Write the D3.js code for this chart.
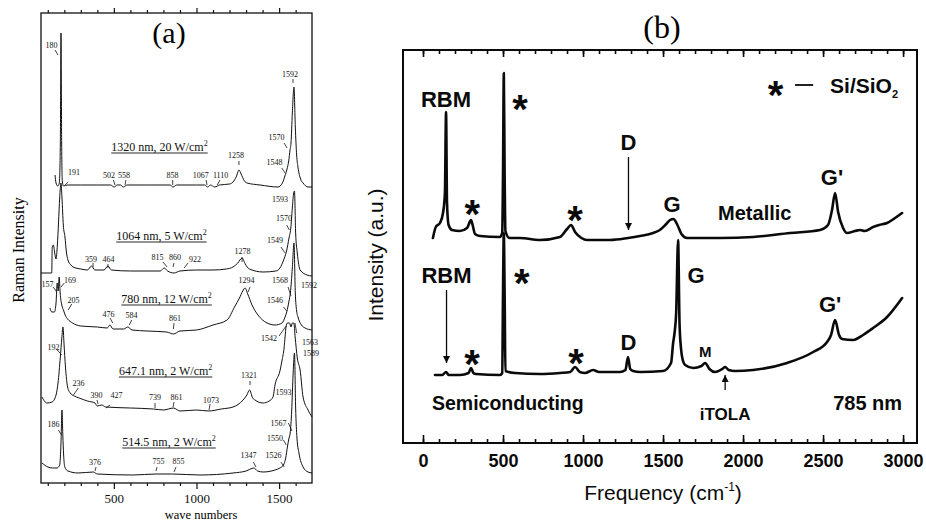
<!DOCTYPE html>
<html>
<head>
<meta charset="utf-8">
<script src="https://cdn.jsdelivr.net/npm/d3@7"></script>
<style>
  body { margin: 0; background: #fff; }
  svg { display: block; }
</style>
</head>
<body>
<svg id="svg" width="926" height="521"></svg>
<script>
/* Raman spectra of nanotubes: (a) five laser lines, (b) metallic vs semiconducting at 785 nm */

// ---------- panel (a) data: [wave number, intensity (a.u., stacked)] ----------
var spec1320 = [[144,308],[150,300],[160,297],[170,300],[176,340],[180,450],[184,340],[188,302],[195,297],[220,298],
  [300,298],[400,298],[480,298],[502,296],[520,298],[540,298],[558,296],[580,298],[700,298],[840,298],[858,296],
  [880,298],[1000,298],[1050,298],[1067,296],[1085,298],[1110,296],[1140,298],[1200,299],[1221,301],[1240,306],
  [1257,313],[1270,309],[1290,302],[1306,300],[1385,298],[1493,296],[1520,300],[1535,307],[1548,314],[1558,322],
  [1566,333],[1572,340],[1580,370],[1590,396],[1598,356],[1606,328],[1614,316],[1630,304],[1645,300],[1675,296],[1699,296]];

var spec1064 = [[59,210],[124,210],[127,236],[134,238],[142,230],[150,224],[158,238],[165,260],[172,285],[180,300],
  [186,285],[194,258],[204,246],[212,232],[222,223],[240,218],[253,216],[300,214],[340,213],[365,217],[385,213],
  [440,213],[464,217],[485,213],[600,212],[780,212],[805,215],[825,212],[864,210],[900,212],[1000,213],[1100,213],
  [1180,214],[1221,216],[1250,220],[1276,225],[1295,219],[1320,214],[1403,211],[1480,212],[1505,215],[1525,222],
  [1545,232],[1560,245],[1570,254],[1580,275],[1588,290],[1593,292],[1600,250],[1610,230],[1627,213],[1669,208],[1699,207]];

var spec780 = [[113,175],[125,171],[140,171],[150,180],[157,200],[163,192],[169,206],[175,190],[185,178],[197,172],
  [205,168],[220,164],[250,160],[300,157],[400,156],[460,155],[476,158],[495,154],[560,154],[584,156],[610,153],
  [700,152],[820,151],[861,149],[900,152],[1000,153],[1100,158],[1185,163],[1230,176],[1260,185],[1280,192],
  [1294,195],[1310,189],[1336,178],[1372,168],[1427,160],[1475,158],[1518,160],[1536,166],[1546,171],[1560,182],
  [1568,190],[1580,215],[1590,240],[1598,190],[1606,172],[1614,166],[1635,158],[1657,155],[1699,153]];

var spec647 = [[65,86],[95,80],[126,81],[150,88],[162,100],[176,126],[185,145],[192,156],[198,140],[207,116],
  [220,96],[236,90],[260,87],[290,85],[340,82],[386,80],[390,79],[400,77],[427,78],[450,76],[600,75],[739,74],
  [800,73],[861,75],[900,72],[1000,73],[1073,72],[1150,74],[1221,76],[1282,83],[1305,88],[1321,93],[1340,85],
  [1354,83],[1403,80],[1440,82],[1463,86],[1475,98],[1505,112],[1518,123],[1530,135],[1536,146],[1542,156],
  [1550,160],[1563,160],[1572,156],[1580,160],[1589,160],[1597,146],[1610,125],[1627,113],[1645,86],[1675,73],[1699,66]];

var spec514 = [[65,20],[101,16],[130,15],[156,15],[172,18],[180,40],[186,73],[191,48],[196,28],[203,16],[222,12],
  [283,10],[376,11],[400,9],[616,8],[755,9],[855,9],[1021,8],[1221,10],[1300,12],[1347,15],[1370,12],[1403,11],
  [1475,13],[1505,15],[1526,18],[1540,25],[1550,36],[1560,45],[1567,50],[1576,72],[1585,110],[1593,130],[1600,75],
  [1608,45],[1620,30],[1645,16],[1675,11],[1699,10]];

var aTickMinor = [100,200,300,400,600,700,800,900,1100,1200,1300,1400,1600];
var aTickMajor = [500,1000,1500];

// condition labels: text, wave number (centre), intensity (baseline)
var aConditions = [["1320 nm,  20 W/cm",776,332],["1064 nm,  5 W/cm",788,243],["780 nm,  12 W/cm",819,180],
  ["647.1 nm,  2 W/cm",813,108],["514.5 nm,  2 W/cm",834,37]];

// peak labels: text, wave number (centre), intensity (baseline)
var aPeakLabels = [["180",122,435],["191",259,308],["502",470,305],["558",562,305],["858",855,305],["1067",1026,305],
  ["1110",1146,305],["1258",1239,325],["1570",1484,343],["1548",1472,318],["1592",1566,406],
  ["1593",1506,281],["1570",1530,262],["1549",1475,240],["359",362,221],["464",467,221],["815",764,223],["860",870,223],
  ["922",991,221],["1278",1279,229],
  ["157",98,196],["169",234,200],["205",256,180],["476",467,166],["584",607,165],["861",870,162],["1294",1303,200],
  ["1568",1506,200],["1592",1681,195],["1546",1475,180],
  ["192",135,133],["236",286,97],["390",395,85],["427",516,85],["739",749,83],["861",879,83],["1073",1088,80],
  ["1321",1318,105],["1593",1527,88],["1542",1439,142],["1563",1687,138],["1589",1693,127],
  ["186",135,56],["376",386,18],["755",770,19],["855",891,19],["1347",1315,25],["1526",1466,25],["1550",1475,42],["1567",1496,57]];

// little pointer strokes from labels to peaks: w1, I1, w2, I2
var aPointers = [[144,433,162,428],[224,301,204,298],[497,303,507,298],[573,303,567,298],[856,303,856,298],
  [1058,303,1064,298],[1142,303,1126,298],[1257,322,1257,318],[1530,340,1548,335],[1516,315,1536,310],[1584,404,1584,400],
  [1546,258,1562,253],[1511,236,1536,230],[374,220,374,216],[464,219,464,215],[797,221,822,216],[864,220,858,216],
  [949,220,925,215],[1276,226,1276,221],
  [133,196,154,191],[200,200,180,196],[245,179,224,173],[477,165,493,160],[608,163,593,158],[864,160,860,154],
  [1324,196,1312,191],[1554,196,1572,187],[1526,176,1546,172],
  [158,133,184,128],[285,95,255,88],[398,83,404,79],[477,78,452,75],[749,80,749,75],[864,81,858,76],[1082,79,1076,73],
  [1324,102,1324,98],[1500,147,1542,157],[1606,150,1596,160],
  [164,53,184,48],[392,16,386,12],[761,16,755,12],[876,16,864,11],[1344,21,1360,16],[1511,21,1531,16],
  [1526,43,1543,38],[1556,60,1578,52]];

// ---------- panel (b) data ----------
var metallic = [[62,205],[80,216],[106,220],[125,230],[137,250],[144,331],[150,240],[160,218],[181,213],[231,212],
  [275,215],[292,221],[300,223],[310,218],[325,209],[356,207],[481,206],[495,210],[500,270],[505,370],[510,270],
  [515,212],[540,205],[606,205],[731,203],[856,206],[900,214],[925,218],[950,211],[990,205],[1025,203],[1169,203],
  [1281,205],[1356,207],[1438,210],[1480,213],[1520,219],[1544,223],[1565,224],[1590,218],[1615,209],[1650,205],[1856,205],
  [2063,206],[2294,210],[2481,213],[2531,218],[2556,233],[2575,250],[2594,231],[2625,215],[2650,210],[2700,212],
  [2731,213],[2760,212],[2813,216],[2850,218],[2900,220],[2950,225],[2994,230]];

var semiconducting = [[75,68],[120,68],[144,71],[160,68],[231,68],[285,70],[300,75],[315,70],[331,69],[481,68],
  [495,70],[500,150],[505,210],[510,150],[515,72],[575,70],[731,69],[856,70],[920,71],[950,76],[980,71],[1013,70],
  [1063,73],[1100,71],[1231,71],[1265,73],[1281,86],[1295,74],[1313,72],[1356,71],[1500,72],[1550,80],[1563,100],
  [1572,110],[1582,130],[1594,203],[1603,120],[1612,95],[1625,82],[1638,78],[1688,75],[1740,77],[1763,80],[1790,74],
  [1825,71],[1870,74],[1888,76],[1910,73],[1950,72],[2063,73],[2275,80],[2438,91],[2525,101],[2550,108],[2575,123],
  [2600,108],[2619,104],[2688,103],[2750,108],[2813,115],[2900,126],[2994,145]];

var bTickMinor = d3.range(0, 3001, 100);
var bTickMajor = [0,500,1000,1500,2000,2500,3000];

// peak labels: text, wave number, intensity (baseline), anchor
var bLabels = [["RBM",144,336,"middle"],["D",1284,293,"middle"],["G",1556,231,"middle"],["G'",2556,258,"middle"],
  ["RBM",147,160,"middle"],["D",1284,93,"middle"],["G",1706,160,"middle"],["G'",2544,131,"middle"]];
var bStars = [[606,320],[308,215],[950,209.5],[617,146.5],[306,65],[956,66.5],[2203,334.5]];
// arrows: w, I from, I to
var bArrows = [[1284,286,213],[147,153,80],[1888,53,68]];

// ---------- scales ----------
var svg = d3.select("#svg");
var xa = d3.scaleLinear().domain([59, 1699]).range([41, 312]);
var ya = d3.scaleLinear().domain([0, 470]).range([483, 13]);
var xb = d3.scaleLinear().domain([-125, 3087]).range([403, 917]);
var yb = d3.scaleLinear().domain([0, 393]).range([443, 50]);

var serif = "'Liberation Serif','Times New Roman',serif";
var sans = "'Liberation Sans',Arial,Helvetica,sans-serif";

// ================= panel (a) =================
var gA = svg.append("g");
var lineA = d3.line().x(d => xa(d[0])).y(d => ya(d[1])).curve(d3.curveMonotoneX);

[spec1320, spec1064, spec780, spec647, spec514].forEach(function(s) {
  gA.append("path").attr("d", lineA(s))
    .attr("fill", "none").attr("stroke", "#111").attr("stroke-width", 1);
});

gA.append("rect")
  .attr("x", xa.range()[0]).attr("y", ya.range()[1])
  .attr("width", xa.range()[1] - xa.range()[0]).attr("height", ya.range()[0] - ya.range()[1])
  .attr("fill", "none").attr("stroke", "#111").attr("stroke-width", 1.3);

function axisA(gen, y) {
  var g = gA.append("g").attr("transform", "translate(0," + y + ")").call(gen);
  g.select(".domain").remove();
  g.selectAll("line").attr("stroke", "#111").attr("stroke-width", 1.2);
  g.selectAll("text").attr("font-family", serif).attr("font-size", 13).attr("fill", "#111");
  return g;
}
axisA(d3.axisBottom(xa).tickValues(aTickMinor).tickSize(3).tickFormat(""), ya.range()[0]);
axisA(d3.axisBottom(xa).tickValues(aTickMajor).tickSize(6).tickPadding(5).tickFormat(d3.format("d")), ya.range()[0]);
axisA(d3.axisTop(xa).tickValues(aTickMinor).tickSize(3).tickFormat(""), ya.range()[1]);
axisA(d3.axisTop(xa).tickValues(aTickMajor).tickSize(5).tickFormat(""), ya.range()[1]);

gA.append("text").attr("x", 201).attr("y", 519).attr("text-anchor", "middle")
  .attr("font-family", serif).attr("font-size", 12.5).text("wave numbers");
gA.append("text").attr("transform", "translate(24,250) rotate(-90)").attr("text-anchor", "middle")
  .attr("font-family", serif).attr("font-size", 16).text("Raman Intensity");
gA.append("text").attr("x", 169).attr("y", 43).attr("text-anchor", "middle")
  .attr("font-family", serif).attr("font-size", 30).text("(a)");

aConditions.forEach(function(c) {
  var t = gA.append("text").attr("x", xa(c[1])).attr("y", ya(c[2])).attr("text-anchor", "middle")
    .attr("font-family", serif).attr("font-size", 12).attr("fill", "#111");
  t.append("tspan").text(c[0]);
  t.append("tspan").attr("dy", -5).attr("font-size", 8).text("2");
  var bb = t.node().getBBox();
  gA.append("line").attr("x1", bb.x).attr("x2", bb.x + bb.width)
    .attr("y1", ya(c[2]) + 2).attr("y2", ya(c[2]) + 2)
    .attr("stroke", "#111").attr("stroke-width", 0.9);
});

gA.selectAll("text.pk").data(aPeakLabels).join("text").attr("class", "pk")
  .attr("x", d => xa(d[1])).attr("y", d => ya(d[2])).attr("text-anchor", "middle")
  .attr("font-family", serif).attr("font-size", 8).attr("fill", "#111").text(d => d[0]);

gA.selectAll("line.ptr").data(aPointers).join("line").attr("class", "ptr")
  .attr("x1", d => xa(d[0])).attr("y1", d => ya(d[1]))
  .attr("x2", d => xa(d[2])).attr("y2", d => ya(d[3]))
  .attr("stroke", "#111").attr("stroke-width", 0.8);

// ================= panel (b) =================
var gB = svg.append("g");
var lineB = d3.line().x(d => xb(d[0])).y(d => yb(d[1])).curve(d3.curveMonotoneX);

[metallic, semiconducting].forEach(function(s) {
  gB.append("path").attr("d", lineB(s))
    .attr("fill", "none").attr("stroke", "#0a0a0a").attr("stroke-width", 2.6)
    .attr("stroke-linejoin", "round").attr("stroke-linecap", "round");
});

gB.append("rect")
  .attr("x", xb.range()[0]).attr("y", yb.range()[1])
  .attr("width", xb.range()[1] - xb.range()[0]).attr("height", yb.range()[0] - yb.range()[1])
  .attr("fill", "none").attr("stroke", "#0a0a0a").attr("stroke-width", 2);

function axisB(gen, y) {
  var g = gB.append("g").attr("transform", "translate(0," + y + ")").call(gen);
  g.select(".domain").remove();
  g.selectAll("line").attr("stroke", "#0a0a0a").attr("stroke-width", 1.6);
  g.selectAll("text").attr("font-family", sans).attr("font-size", 18).attr("font-weight", "bold").attr("fill", "#0a0a0a");
  return g;
}
axisB(d3.axisBottom(xb).tickValues(bTickMinor).tickSize(-4).tickFormat(""), yb.range()[0]);
axisB(d3.axisBottom(xb).tickValues(bTickMajor).tickSize(-8).tickPadding(11).tickFormat(d3.format("d")), yb.range()[0]);
axisB(d3.axisTop(xb).tickValues(bTickMinor).tickSize(-4).tickFormat(""), yb.range()[1]);
axisB(d3.axisTop(xb).tickValues(bTickMajor).tickSize(-7).tickFormat(""), yb.range()[1]);

var fx = gB.append("text").attr("x", 663).attr("y", 500).attr("text-anchor", "middle")
  .attr("font-family", sans).attr("font-size", 21).attr("fill", "#0a0a0a");
fx.append("tspan").text("Frequency (cm");
fx.append("tspan").attr("dy", -9).attr("font-size", 12).text("-1");
fx.append("tspan").attr("dy", 9).text(")");

gB.append("text").attr("transform", "translate(383,255) rotate(-90)").attr("text-anchor", "middle")
  .attr("font-family", sans).attr("font-size", 21).attr("fill", "#0a0a0a").text("Intensity (a.u.)");
gB.append("text").attr("x", 662).attr("y", 38).attr("text-anchor", "middle")
  .attr("font-family", serif).attr("font-size", 32).text("(b)");

gB.selectAll("text.bl").data(bLabels).join("text").attr("class", "bl")
  .attr("x", d => xb(d[1])).attr("y", d => yb(d[2])).attr("text-anchor", d => d[3])
  .attr("font-family", sans).attr("font-size", 22).attr("font-weight", "bold").attr("fill", "#0a0a0a")
  .text(d => d[0]);

gB.selectAll("text.star").data(bStars).join("text").attr("class", "star")
  .attr("x", d => xb(d[0])).attr("y", d => yb(d[1])).attr("text-anchor", "middle")
  .attr("font-family", sans).attr("font-size", 40).attr("font-weight", "bold").attr("fill", "#0a0a0a")
  .text("*");

function bText(str, w, I, size, anchor) {
  return gB.append("text").attr("x", xb(w)).attr("y", yb(I)).attr("text-anchor", anchor)
    .attr("font-family", sans).attr("font-size", size).attr("font-weight", "bold").attr("fill", "#0a0a0a").text(str);
}
bText("M", 1763, 86, 15, "middle");
bText("iTOLA", 1888, 23, 17, "middle");
bText("Metallic", 1844, 223, 20, "start");
bText("Semiconducting", 56, 33, 19.5, "start");
bText("785 nm", 2994, 33, 20, "end");

// legend: * — Si/SiO2
gB.append("line").attr("x1", xb(2325)).attr("x2", xb(2438)).attr("y1", yb(358)).attr("y2", yb(358))
  .attr("stroke", "#0a0a0a").attr("stroke-width", 1.8);
var lg = bText("Si/SiO", 2544, 350, 21, "start");
lg.append("tspan").attr("dy", 5).attr("font-size", 11).text("2");

// arrows
var defs = svg.append("defs");
defs.append("marker").attr("id", "ah").attr("viewBox", "0 0 10 10").attr("refX", 10).attr("refY", 5)
  .attr("markerWidth", 7).attr("markerHeight", 7).attr("markerUnits", "userSpaceOnUse").attr("orient", "auto")
  .append("path").attr("d", "M0,0L10,5L0,10z").attr("fill", "#0a0a0a");
gB.selectAll("line.arr").data(bArrows).join("line").attr("class", "arr")
  .attr("x1", d => xb(d[0])).attr("x2", d => xb(d[0]))
  .attr("y1", d => yb(d[1])).attr("y2", d => yb(d[2]))
  .attr("stroke", "#0a0a0a").attr("stroke-width", 1.3).attr("marker-end", "url(#ah)");
</script>
</body>
</html>
